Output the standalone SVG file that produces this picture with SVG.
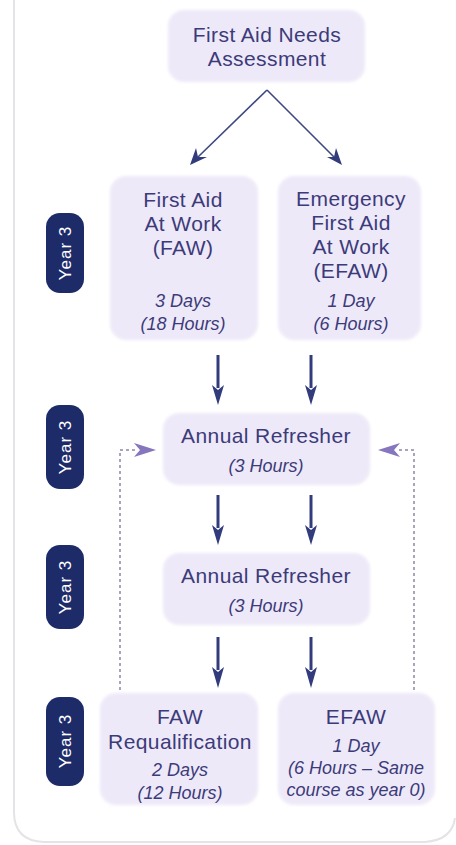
<svg xmlns="http://www.w3.org/2000/svg" width="456" height="845" viewBox="0 0 456 845">
<defs>
<style>
.box{fill:#eee9f8;filter:url(#soft)}
.t{font-family:"Liberation Sans",Arial,sans-serif;font-size:21px;letter-spacing:0.4px;fill:#3c3b7a;text-anchor:middle}
.i{font-family:"Liberation Sans",Arial,sans-serif;font-size:18px;font-style:italic;fill:#3c3b7a;text-anchor:middle}
.pill{fill:#1e2b69}
.y{font-family:"Liberation Sans",Arial,sans-serif;font-size:17px;fill:#ffffff;text-anchor:middle;letter-spacing:1px}
.a{stroke:#323c7c;stroke-width:3;fill:none}
.d{stroke:#3d4780;stroke-width:1.6;fill:none}
.fb{stroke:#8a86a8;stroke-width:1.5;stroke-dasharray:3 3;fill:none}
</style>
<filter id="soft" x="-5%" y="-5%" width="110%" height="110%"><feGaussianBlur stdDeviation="1.5"/></filter>
</defs>
<path d="M14,0 V812 Q14,841 44,842 H425 Q452,840 455,818" fill="none" stroke="#e4e4e8" stroke-width="2"/>

<g id="connectors">
<path class="d" d="M267,90 L198,157"/>
<path d="M190,165 L196,148 L198,157 L207,157 Z" fill="#323c7c"/>
<path class="d" d="M267,90 L334,157"/>
<path d="M342,165 L327,157 L334,157 L336,148 Z" fill="#323c7c"/>
<g fill="#323c7c">
<path d="M218,355 V388" class="a"/><path d="M212,385 L218,390 L224,385 L218,405 Z"/>
<path d="M311,355 V388" class="a"/><path d="M305,385 L311,390 L317,385 L311,405 Z"/>
<path d="M218,495 V528" class="a"/><path d="M212,525 L218,530 L224,525 L218,545 Z"/>
<path d="M311,495 V528" class="a"/><path d="M305,525 L311,530 L317,525 L311,545 Z"/>
<path d="M218,637 V670" class="a"/><path d="M212,667 L218,672 L224,667 L218,688 Z"/>
<path d="M311,637 V670" class="a"/><path d="M305,667 L311,672 L317,667 L311,688 Z"/>
</g>
<path class="fb" d="M120,690 V450 H138"/>
<path d="M134,443 L156,450 L134,457 L140,450 Z" fill="#8676bd"/>
<path class="fb" d="M414,690 V450 H396"/>
<path d="M400,443 L378,450 L400,457 L394,450 Z" fill="#8676bd"/>
</g>

<g id="node-assessment">
<rect class="box" x="168" y="10" width="197" height="72" rx="16"/>
<text class="t" x="267" y="42">First Aid Needs</text>
<text class="t" x="267" y="66">Assessment</text>
</g>

<g id="node-faw">
<rect class="box" x="110" y="176" width="148" height="164" rx="16"/>
<text class="t" x="183" y="207">First Aid</text>
<text class="t" x="183" y="231">At Work</text>
<text class="t" x="183" y="255">(FAW)</text>
<text class="i" x="183" y="307">3 Days</text>
<text class="i" x="183" y="330">(18 Hours)</text>
</g>

<g id="node-efaw">
<rect class="box" x="278" y="176" width="143" height="164" rx="16"/>
<text class="t" x="351" y="206">Emergency</text>
<text class="t" x="351" y="230">First Aid</text>
<text class="t" x="351" y="254">At Work</text>
<text class="t" x="351" y="278">(EFAW)</text>
<text class="i" x="351" y="307">1 Day</text>
<text class="i" x="351" y="330">(6 Hours)</text>
</g>

<g id="node-refresher1">
<rect class="box" x="163" y="413" width="207" height="72" rx="16"/>
<text class="t" x="266" y="443">Annual Refresher</text>
<text class="i" x="266" y="472">(3 Hours)</text>
</g>

<g id="node-refresher2">
<rect class="box" x="163" y="553" width="207" height="72" rx="16"/>
<text class="t" x="266" y="583">Annual Refresher</text>
<text class="i" x="266" y="612">(3 Hours)</text>
</g>

<g id="node-faw-requal">
<rect class="box" x="100" y="693" width="158" height="112" rx="16"/>
<text class="t" x="180" y="724">FAW</text>
<text class="t" x="180" y="749">Requalification</text>
<text class="i" x="180" y="776">2 Days</text>
<text class="i" x="180" y="799">(12 Hours)</text>
</g>

<g id="node-efaw-requal">
<rect class="box" x="278" y="693" width="157" height="112" rx="16"/>
<text class="t" x="356" y="724">EFAW</text>
<text class="i" x="356" y="752">1 Day</text>
<text class="i" x="356" y="774">(6 Hours – Same</text>
<text class="i" x="356" y="796">course as year 0)</text>
</g>

<g id="year-labels">
<rect class="pill" x="46" y="213" width="38" height="80" rx="14"/>
<text class="y" transform="translate(71,253) rotate(-90)">Year 3</text>
<rect class="pill" x="46" y="405" width="38" height="84" rx="14"/>
<text class="y" transform="translate(71,447) rotate(-90)">Year 3</text>
<rect class="pill" x="46" y="545" width="38" height="84" rx="14"/>
<text class="y" transform="translate(71,587) rotate(-90)">Year 3</text>
<rect class="pill" x="46" y="697" width="38" height="89" rx="14"/>
<text class="y" transform="translate(71,741) rotate(-90)">Year 3</text>
</g>
</svg>
